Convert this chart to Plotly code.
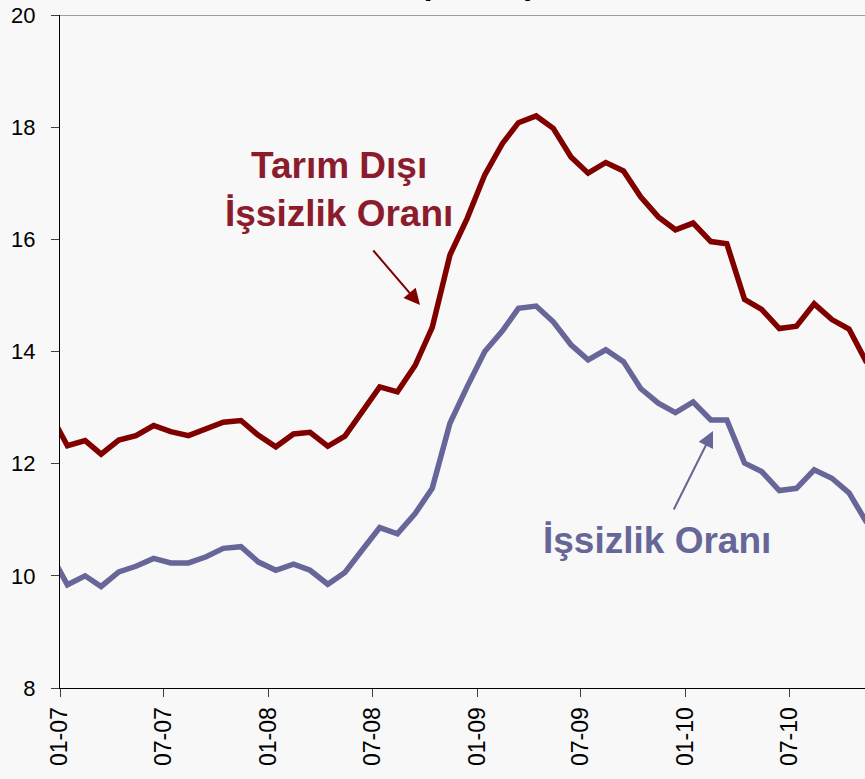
import pandas as pd
import plotly.graph_objects as go

# Monthly observations, Dec 2006 .. Nov 2010
months = pd.date_range("2006-12-01", periods=48, freq="MS") + pd.Timedelta(days=13)

tarim_disi = [12.90, 12.32, 12.41, 12.17, 12.42, 12.50, 12.68, 12.57, 12.50, 12.63, 12.74, 12.77,
              12.51, 12.30, 12.53, 12.56, 12.31, 12.49, 12.93, 13.37, 13.28, 13.75, 14.43, 15.72,
              16.37, 17.15, 17.71, 18.08, 18.20, 17.98, 17.47, 17.18, 17.37, 17.22, 16.76, 16.40,
              16.17, 16.29, 15.96, 15.92, 14.93, 14.75, 14.41, 14.45, 14.85, 14.57, 14.40, 13.80]

issizlik = [10.42, 9.84, 10.00, 9.81, 10.07, 10.17, 10.31, 10.23, 10.23, 10.34, 10.49, 10.52,
            10.25, 10.10, 10.21, 10.10, 9.85, 10.06, 10.47, 10.86, 10.75, 11.11, 11.56, 12.72,
            13.37, 14.00, 14.37, 14.77, 14.81, 14.53, 14.12, 13.85, 14.03, 13.82, 13.34, 13.08,
            12.91, 13.10, 12.78, 12.78, 12.01, 11.86, 11.52, 11.56, 11.89, 11.74, 11.48, 10.95]

y_ticks = [8, 10, 12, 14, 16, 18, 20]

RED = "#800000"
RED_TXT = "#8c1c2d"
BLUE = "#666699"
FONT = "Arial, Liberation Sans, sans-serif"

fig = go.Figure()
fig.add_trace(go.Scatter(x=months, y=tarim_disi, mode="lines",
                         line=dict(color=RED, width=5.5), name="Tarım Dışı İşsizlik Oranı"))
fig.add_trace(go.Scatter(x=months, y=issizlik, mode="lines",
                         line=dict(color=BLUE, width=5.5), name="İşsizlik Oranı"))

fig.update_layout(
    width=865, height=779,
    margin=dict(l=60, r=0, t=15, b=91),
    paper_bgcolor="#f8f8f8", plot_bgcolor="#f8f8f8",
    showlegend=False,
    font=dict(family=FONT, color="#000000"),
)

fig.update_xaxes(
    type="date", range=["2007-01-01", "2010-11-11"],
    tick0="2007-01-01", dtick="M6", tickformat="%m-%y",
    tickangle=-90, ticks="outside", ticklen=8, tickcolor="#404040", tickwidth=1,
    showline=True, linecolor="#000000", linewidth=1,
    showgrid=False, zeroline=False,
    tickfont=dict(size=23, family=FONT, color="#000000"),
    ticklabelstandoff=1,
)
fig.update_yaxes(
    range=[8, 20], tickvals=y_ticks,
    ticks="outside", ticklen=8, tickcolor="#404040", tickwidth=1,
    showline=True, linecolor="#000000", linewidth=1,
    showgrid=False, zeroline=False,
    tickfont=dict(size=22, family=FONT, color="#000000"),
    ticklabelstandoff=11,
)

# top border line of the plot area
fig.add_shape(type="line", xref="paper", x0=0, x1=1, yref="y", y0=20, y1=20,
              line=dict(color="#808080", width=1.5))

# cut-off title (only its lowest part is visible)
fig.add_annotation(text="<b>(Yüzde)</b>", xref="paper", yref="paper", x=(478 - 60) / 805, y=1,
                   xanchor="center", yanchor="bottom", yshift=12, showarrow=False,
                   font=dict(size=32, family=FONT, color="#000000"))

# labels
fig.add_annotation(text="<b>Tarım Dışı<br>İşsizlik Oranı</b>", xref="paper", yref="paper",
                   x=(339 - 60) / 805, y=1 - (190 - 15) / 673, xanchor="center", yanchor="middle",
                   showarrow=False, font=dict(size=37, family=FONT, color=RED_TXT))
fig.add_annotation(text="<b>İşsizlik Oranı</b>", xref="paper", yref="paper",
                   x=(657 - 60) / 805, y=1 - (540 - 15) / 673, xanchor="center", yanchor="middle",
                   showarrow=False, font=dict(size=37, family=FONT, color=BLUE))

# arrows
fig.add_annotation(text="", xref="paper", yref="paper",
                   x=(420 - 60) / 805, y=1 - (305 - 15) / 673, ax=-48, ay=-56,
                   showarrow=True, arrowhead=2, arrowsize=1.6, arrowwidth=2, arrowcolor=RED)
fig.add_annotation(text="", xref="paper", yref="paper",
                   x=(713 - 60) / 805, y=1 - (431 - 15) / 673, ax=-40, ay=80,
                   showarrow=True, arrowhead=2, arrowsize=1.6, arrowwidth=2, arrowcolor=BLUE)

fig.write_html(
    "out.html",
    config={"displayModeBar": False},
    post_script="document.body.style.margin='0px';document.body.style.background='#f8f8f8';"
                "document.body.style.overflow='hidden';",
)
